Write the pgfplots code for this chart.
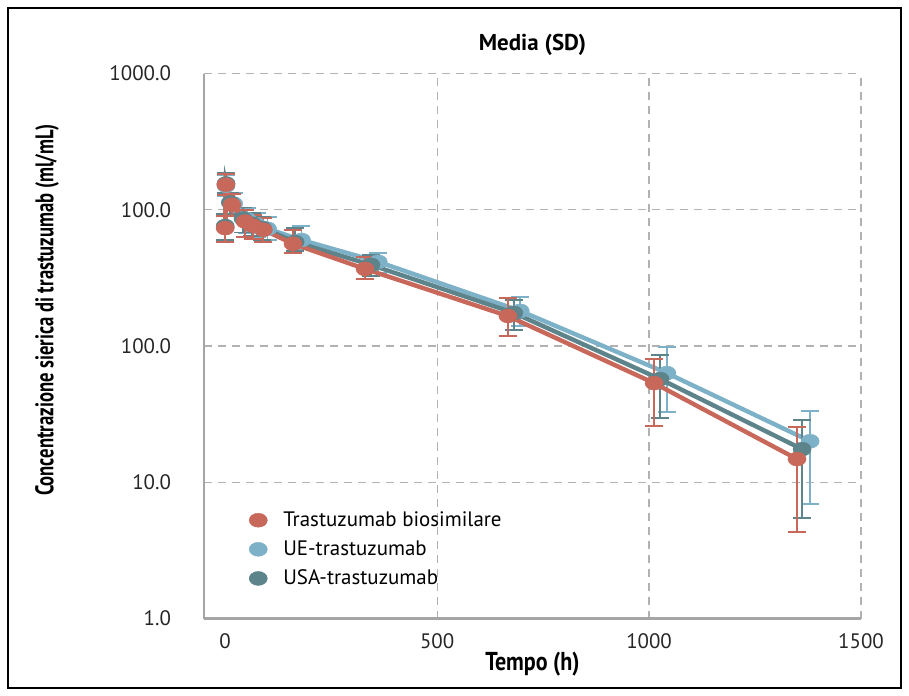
\documentclass[border=0pt]{standalone}
\usepackage{fontspec}
\setmainfont{PT Sans}
\usepackage{graphicx}
\usepackage{pgfplots}
\pgfplotsset{compat=1.18}
\usepackage{pgfplotstable}

\definecolor{bioRed}{RGB}{200,104,90}
\definecolor{ueBlue}{RGB}{125,177,200}
\definecolor{usaTeal}{RGB}{93,131,139}
\definecolor{axisGray}{RGB}{165,165,165}
\definecolor{gridGray}{RGB}{178,178,178}

% x = time (h), y = mean, hi/lo = ends of the SD bar
\pgfplotstableread{
x y hi lo
0 733 903 582
1.5 1527 1840 1289
16 1088 1300 900
47 820 1000 633
66 763 920 610
90 713 873 582
160 562 713 483
330 368 451 311
667 166 225 118
1012 53.4 80.2 25.9
1349 14.8 25.4 4.29
}\biosim

\pgfplotstableread{
x y hi lo
0 745 920 590
2 1500 1800 1270
20 1110 1330 920
52 850 1030 670
74 780 950 630
100 725 880 600
180 600 760 510
361 415 483 344
696 181 229 140
1042 63.3 98.8 32.9
1380 20.0 33.3 6.9
}\ueTab

\pgfplotstableread{
x y hi lo
0 760 930 600
2 1560 1870 1320
12 1130 1340 930
42 860 1040 680
64 790 950 640
88 735 890 600
165 580 730 495
344 394 467 327
681 175 218 131
1026 57.2 85.9 29.5
1361 17.5 28.6 5.5
}\usaTab

\pgfplotsset{
  pkerr/.style={
    draw=none, mark=none, forget plot,
    error bars/.cd, y dir=both, y explicit,
    error bar style={draw=#1, line width=0.9bp, solid},
    error mark options={rotate=90, draw=#1, line width=0.9bp, mark size=4.5bp}
  },
  pkline/.style={
    #1, line width=2.2bp, mark=*, mark size=3.5bp,
    mark options={xscale=1.3, draw=#1, fill=#1, line width=0.2bp},
    forget plot
  },
  pkleg/.style={only marks, mark=*, mark size=3.5bp,
    mark options={xscale=1.3, draw=#1, fill=#1, line width=0.2bp}}
}

\begin{document}
\begin{tikzpicture}
\useasboundingbox (-102bp,-38.75bp) rectangle (352.5bp,309.25bp);
\draw[black, line width=0.8bp] (-98bp,-34.75bp) rectangle (348.5bp,305.25bp);
\begin{axis}[
    at={(0,0)}, anchor=south west,
    scale only axis,
    width=328.5bp, height=272.5bp,
    xmin=-50, xmax=1500,
    ymode=log, ymin=1, ymax=10000,
    axis x line=bottom, axis y line=left,
    axis line style={-, axisGray, line width=1.1bp},
    xtick={500,1000,1500},
    extra x ticks={0}, extra x tick style={grid=none},
    ytick={1,10,100,1000,10000},
    yticklabels={1.0,10.0,100.0,100.0,1000.0},
    yminorticks=false,
    grid=major,
    major grid style={gridGray, dash pattern=on 4bp off 3bp, line width=0.6bp},
    major tick length=0pt,
    /pgf/number format/assume math mode=true,
    /pgf/number format/1000 sep={},
    tick label style={font=\fontsize{10.5}{12}\selectfont, text=black!85},
    xticklabel style={yshift=-4bp},
    yticklabel style={xshift=-13bp},
    every axis title shift=0pt,
    title={\textbf{Media (SD)}},
    title style={at={(axis description cs:0.5,1.053)}, anchor=center,
      font=\fontsize{11.5}{13}\selectfont},
    xlabel={\textbf{\scalebox{0.85}[1]{Tempo (h)}}},
    xlabel style={at={(axis description cs:0.5,-0.083)}, anchor=center,
      font=\fontsize{13}{15}\selectfont},
    ylabel={\textbf{\scalebox{0.73}[1]{Concentrazione sierica di trastuzumab (ml/mL)}}},
    ylabel style={at={(axis description cs:-0.239,0.566)}, anchor=center,
      font=\fontsize{12.8}{14}\selectfont},
    legend style={at={(axis description cs:0.059,0.212)}, anchor=north west,
      draw=none, fill=none, font=\fontsize{10.5}{12}\selectfont,
      row sep=1.7bp, column sep=6bp},
    legend cell align=left
]

\addplot[pkerr=ueBlue] table[x=x, y=y,
  y error plus expr=\thisrow{hi}-\thisrow{y},
  y error minus expr=\thisrow{y}-\thisrow{lo}] {\ueTab};
\addplot[pkline=ueBlue] table[x=x, y=y] {\ueTab};

\addplot[pkerr=usaTeal] table[x=x, y=y,
  y error plus expr=\thisrow{hi}-\thisrow{y},
  y error minus expr=\thisrow{y}-\thisrow{lo}] {\usaTab};
\addplot[pkline=usaTeal] table[x=x, y=y] {\usaTab};

\addplot[pkerr=bioRed] table[x=x, y=y,
  y error plus expr=\thisrow{hi}-\thisrow{y},
  y error minus expr=\thisrow{y}-\thisrow{lo}] {\biosim};
\addplot[pkline=bioRed] table[x=x, y=y] {\biosim};

\addlegendimage{pkleg=bioRed}
\addlegendentry{Trastuzumab biosimilare}
\addlegendimage{pkleg=ueBlue}
\addlegendentry{UE-trastuzumab}
\addlegendimage{pkleg=usaTeal}
\addlegendentry{USA-trastuzumab}

\end{axis}
\end{tikzpicture}
\end{document}
